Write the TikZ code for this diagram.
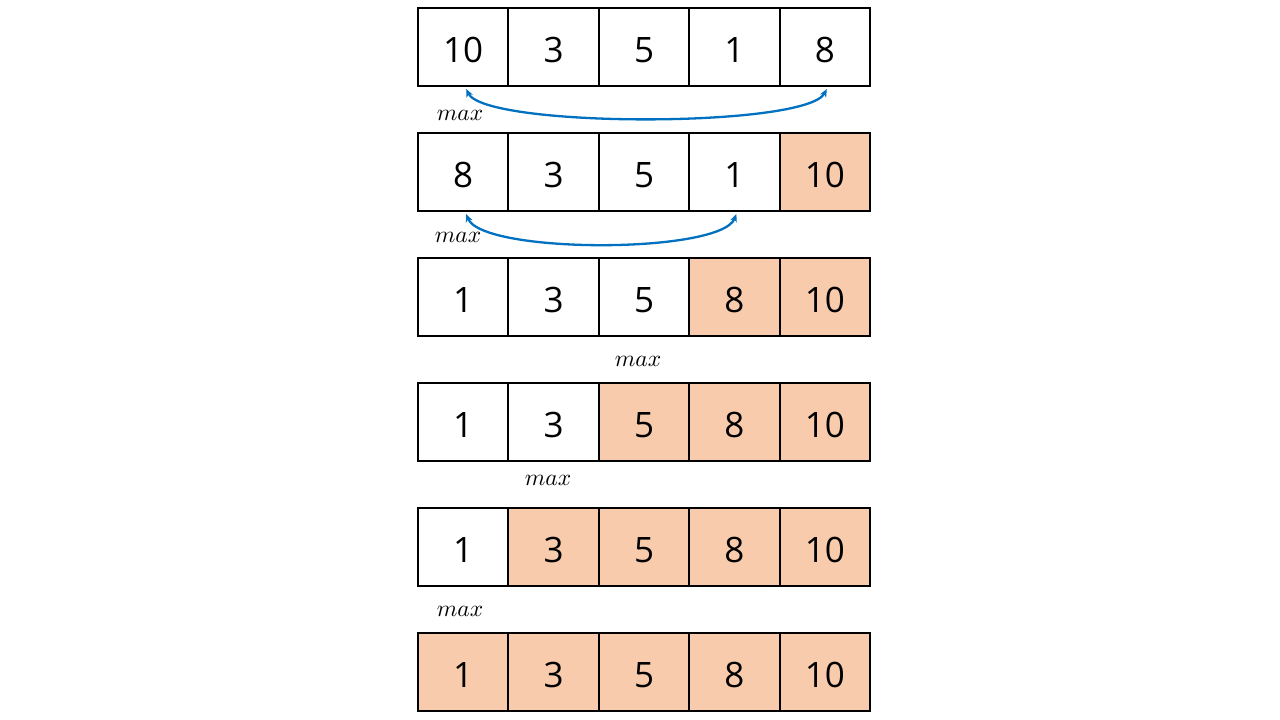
\documentclass[tikz,border=0pt]{standalone}
\usepackage{fontspec}
\setmainfont{Open Sans}
\usetikzlibrary{arrows.meta}
\definecolor{peach}{HTML}{F8CBAD}
\definecolor{arrowblue}{HTML}{0070C0}
\tikzset{
  cell/.style={draw=black, line width=2.1pt, minimum width=90.4pt, minimum height=78pt, inner sep=0pt, text height=30pt, text depth=0pt, font=\fontsize{35}{35}\selectfont, anchor=center},
  maxlbl/.style={scale=2.35, inner sep=0pt},
  swaparrow/.style={arrowblue, line width=2.3pt, {Stealth[length=8pt,width=7pt]}-{Stealth[length=8pt,width=7pt]}}
}
\begin{document}
\begin{tikzpicture}[x=1pt,y=-1pt]
\useasboundingbox (0,0) rectangle (1280,720);
\foreach \r/\vals/\k in {1/{10,3,5,1,8}/6, 2/{8,3,5,1,10}/5, 3/{1,3,5,8,10}/4, 4/{1,3,5,8,10}/3, 5/{1,3,5,8,10}/2, 6/{1,3,5,8,10}/1}{
  \foreach \v [count=\c] in \vals {
    \ifnum\c<\k \def\fillc{white}\else\def\fillc{peach}\fi
    \node[cell, fill=\fillc] (n-\r-\c) at ({418+90.4*(\c-0.5)}, {47+125*(\r-1)}) {\v};
  }
}
\node[maxlbl] (m1) at (460,115) {$max$};
\node[maxlbl] (m2) at (458,237) {$max$};
\node[maxlbl] (m3) at (638,361) {$max$};
\node[maxlbl] (m4) at (548,480) {$max$};
\node[maxlbl] (m5) at (460,611) {$max$};
\coordinate (a1) at ([xshift=3pt,yshift=-2pt]n-1-1.south);
\coordinate (b1) at ([xshift=2pt,yshift=-2pt]n-1-5.south);
\coordinate (a2) at ([xshift=3pt,yshift=-2pt]n-2-1.south);
\coordinate (b2) at ([xshift=2pt,yshift=-2pt]n-2-4.south);
\draw[swaparrow] (a1) .. controls +(19,39) and +(-21,39) .. (b1);
\draw[swaparrow] (a2) .. controls +(16,40) and +(-16,40) .. (b2);
\end{tikzpicture}
\end{document}
